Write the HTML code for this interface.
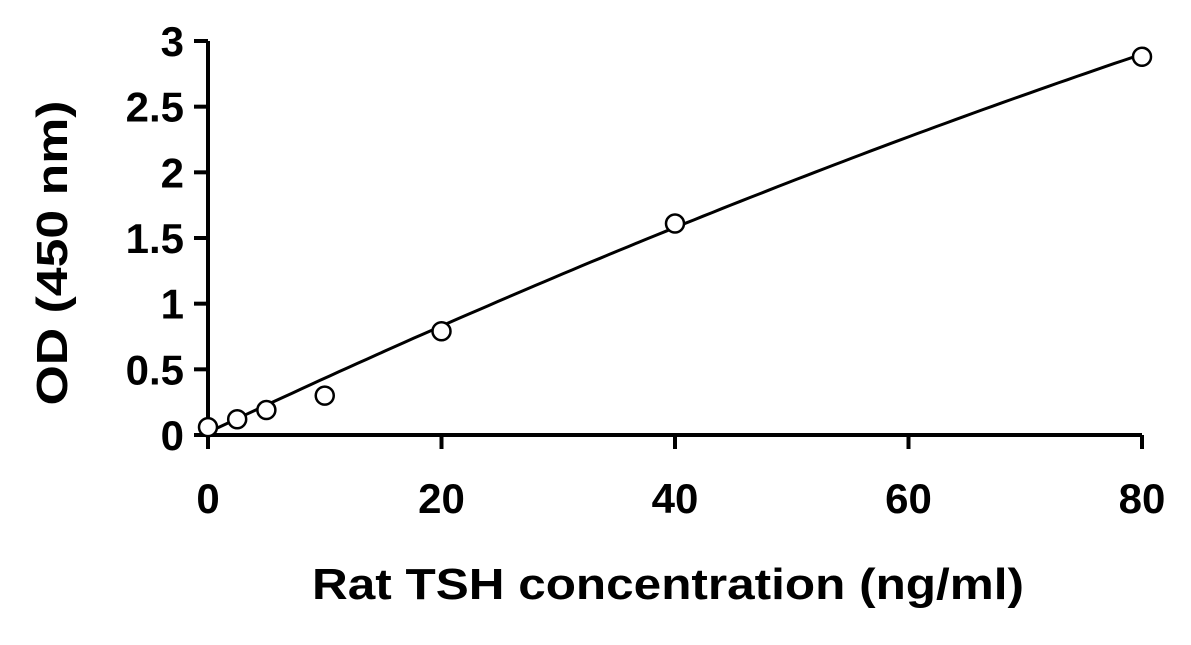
<!DOCTYPE html>
<html><head><meta charset="utf-8"><style>
body{margin:0;background:#fff;}
svg text{font-family:"Liberation Sans",Arial,sans-serif;font-weight:bold;fill:#000;}
</style></head><body>
<svg id="chart" width="1191" height="640" viewBox="0 0 1191 640" xmlns="http://www.w3.org/2000/svg">
<g id="axes"></g><g id="curve"></g><g id="points"></g>
<text x="668" y="599" font-size="44" text-anchor="middle" textLength="712" lengthAdjust="spacingAndGlyphs">Rat TSH concentration (ng/ml)</text>
<text transform="translate(67,253) rotate(-90)" font-size="44" text-anchor="middle" textLength="305" lengthAdjust="spacingAndGlyphs">OD (450 nm)</text>
</svg>
<script>
const xTicks=[0,20,40,60,80];
const yTicks=[0,0.5,1,1.5,2,2.5,3];
const yTickLabels=["0","0.5","1","1.5","2","2.5","3"];
const concentrations=[0,2.5,5,10,20,40,80];
const odValues=[0.06,0.12,0.19,0.30,0.79,1.61,2.88];
const fitCoefficients=[0.02,0.042,-0.000075];
const NS="http://www.w3.org/2000/svg";
const X0=208,X1=1142,Y0=435,Y1=41;
const sx=v=>X0+(v-0)/(80-0)*(X1-X0);
const sy=v=>Y0-(v-0)/(3-0)*(Y0-Y1);
function mk(tag,attrs,parent){const e=document.createElementNS(NS,tag);for(const k in attrs)e.setAttribute(k,attrs[k]);document.getElementById(parent).appendChild(e);return e;}
const ax=mk('line',{x1:X0,y1:Y1,x2:X0,y2:Y0,stroke:'#000','stroke-width':4},'axes');


const bx=mk('line',{x1:X0-2,y1:Y0,x2:X1,y2:Y0,stroke:'#000','stroke-width':4},'axes');


yTicks.forEach((v,i)=>{
  const t=mk('line',{x1:X0-14,y1:sy(v),x2:X0,y2:sy(v),stroke:'#000','stroke-width':4},'axes');
  
  
  const l=mk('text',{x:X0-24,y:sy(v)+15,'font-size':42,'text-anchor':'end'},'axes');
  l.textContent=yTickLabels[i];
  
  
});
xTicks.forEach(v=>{
  const t=mk('line',{x1:sx(v),y1:Y0,x2:sx(v),y2:Y0+14,stroke:'#000','stroke-width':4},'axes');
  
  
  const l=mk('text',{x:sx(v),y:513,'font-size':42,'text-anchor':'middle'},'axes');
  l.textContent=String(v);
  
  
});
let d='';
for(let i=0;i<=100;i++){const x=80*i/100;const y=fitCoefficients[0]+fitCoefficients[1]*x+fitCoefficients[2]*x*x;d+=(i?'L':'M')+sx(x).toFixed(1)+','+sy(y).toFixed(1);}
const c=mk('path',{d:d,fill:'none',stroke:'#000','stroke-width':3},'curve');


concentrations.forEach((x,i)=>{
  const p=mk('circle',{cx:sx(x),cy:sy(odValues[i]),r:9,fill:'#fff',stroke:'#000','stroke-width':2.5},'points');
  
  
});
</script>
</body></html>
